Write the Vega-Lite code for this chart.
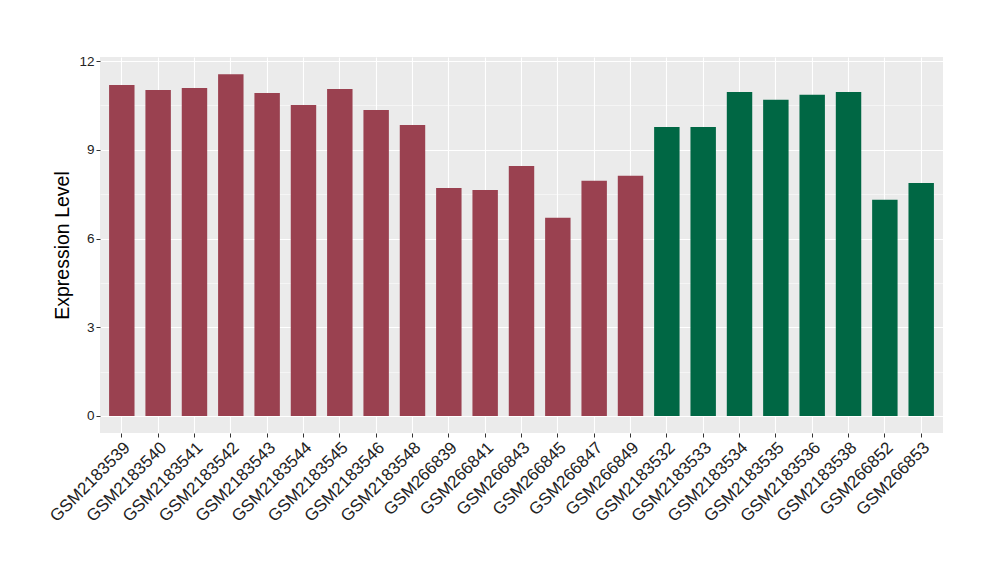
{
  "$schema": "https://vega.github.io/schema/vega-lite/v6.json",
  "width": 843,
  "height": 376,
  "autosize": {"type": "none"},
  "padding": {"left": 100, "top": 57, "right": 57, "bottom": 147},
  "background": "white",
  "view": {"fill": "#EBEBEB", "stroke": null},
  "data": {
    "values": [
      {"sample": "GSM2183539", "value": 11.19, "group": "a"},
      {"sample": "GSM2183540", "value": 11.02, "group": "a"},
      {"sample": "GSM2183541", "value": 11.09, "group": "a"},
      {"sample": "GSM2183542", "value": 11.56, "group": "a"},
      {"sample": "GSM2183543", "value": 10.92, "group": "a"},
      {"sample": "GSM2183544", "value": 10.52, "group": "a"},
      {"sample": "GSM2183545", "value": 11.06, "group": "a"},
      {"sample": "GSM2183546", "value": 10.35, "group": "a"},
      {"sample": "GSM2183548", "value": 9.84, "group": "a"},
      {"sample": "GSM266839", "value": 7.71, "group": "a"},
      {"sample": "GSM266841", "value": 7.64, "group": "a"},
      {"sample": "GSM266843", "value": 8.45, "group": "a"},
      {"sample": "GSM266845", "value": 6.70, "group": "a"},
      {"sample": "GSM266847", "value": 7.95, "group": "a"},
      {"sample": "GSM266849", "value": 8.12, "group": "a"},
      {"sample": "GSM2183532", "value": 9.77, "group": "b"},
      {"sample": "GSM2183533", "value": 9.77, "group": "b"},
      {"sample": "GSM2183534", "value": 10.96, "group": "b"},
      {"sample": "GSM2183535", "value": 10.69, "group": "b"},
      {"sample": "GSM2183536", "value": 10.86, "group": "b"},
      {"sample": "GSM2183538", "value": 10.96, "group": "b"},
      {"sample": "GSM266852", "value": 7.31, "group": "b"},
      {"sample": "GSM266853", "value": 7.88, "group": "b"}
    ]
  },
  "mark": {"type": "bar"},
  "encoding": {
    "x": {
      "field": "sample",
      "type": "nominal",
      "sort": null,
      "scale": {"paddingInner": 0.3, "paddingOuter": 0.25},
      "axis": {
        "title": null,
        "labelAngle": -45,
        "labelFont": "Liberation Sans",
        "labelFontSize": 17,
        "labelColor": "#222222",
        "labelPadding": 2,
        "tickSize": 4,
        "tickColor": "#333333",
        "tickWidth": 1,
        "domain": false,
        "grid": true,
        "gridColor": "white",
        "gridWidth": 1.1,
        "bandPosition": 0.5,
        "labelOverlap": false
      }
    },
    "y": {
      "field": "value",
      "type": "quantitative",
      "scale": {"domain": [-0.578, 12.14], "nice": false, "zero": false},
      "axis": {
        "title": "Expression Level",
        "titleFont": "Liberation Sans",
        "titleFontSize": 19.5,
        "titleFontWeight": "normal",
        "titleColor": "black",
        "titlePadding": 6,
        "values": [0, 1.5, 3, 4.5, 6, 7.5, 9, 10.5, 12],
        "labelExpr": "datum.value % 3 === 0 ? datum.label : ''",
        "labelFont": "Liberation Sans",
        "labelFontSize": 13.5,
        "labelColor": "#222222",
        "labelPadding": 2,
        "tickSize": 4,
        "tickColor": "#333333",
        "tickWidth": 1,
        "tickOpacity": {"condition": {"test": "datum.value % 3 === 0", "value": 1}, "value": 0},
        "domain": false,
        "grid": true,
        "gridColor": "white",
        "gridWidth": {"condition": {"test": "datum.value % 3 === 0", "value": 1.1}, "value": 0.5}
      }
    },
    "y2": {"datum": 0},
    "color": {
      "field": "group",
      "type": "nominal",
      "scale": {"domain": ["a", "b"], "range": ["#9a4150", "#006744"]},
      "legend": null
    }
  }
}
